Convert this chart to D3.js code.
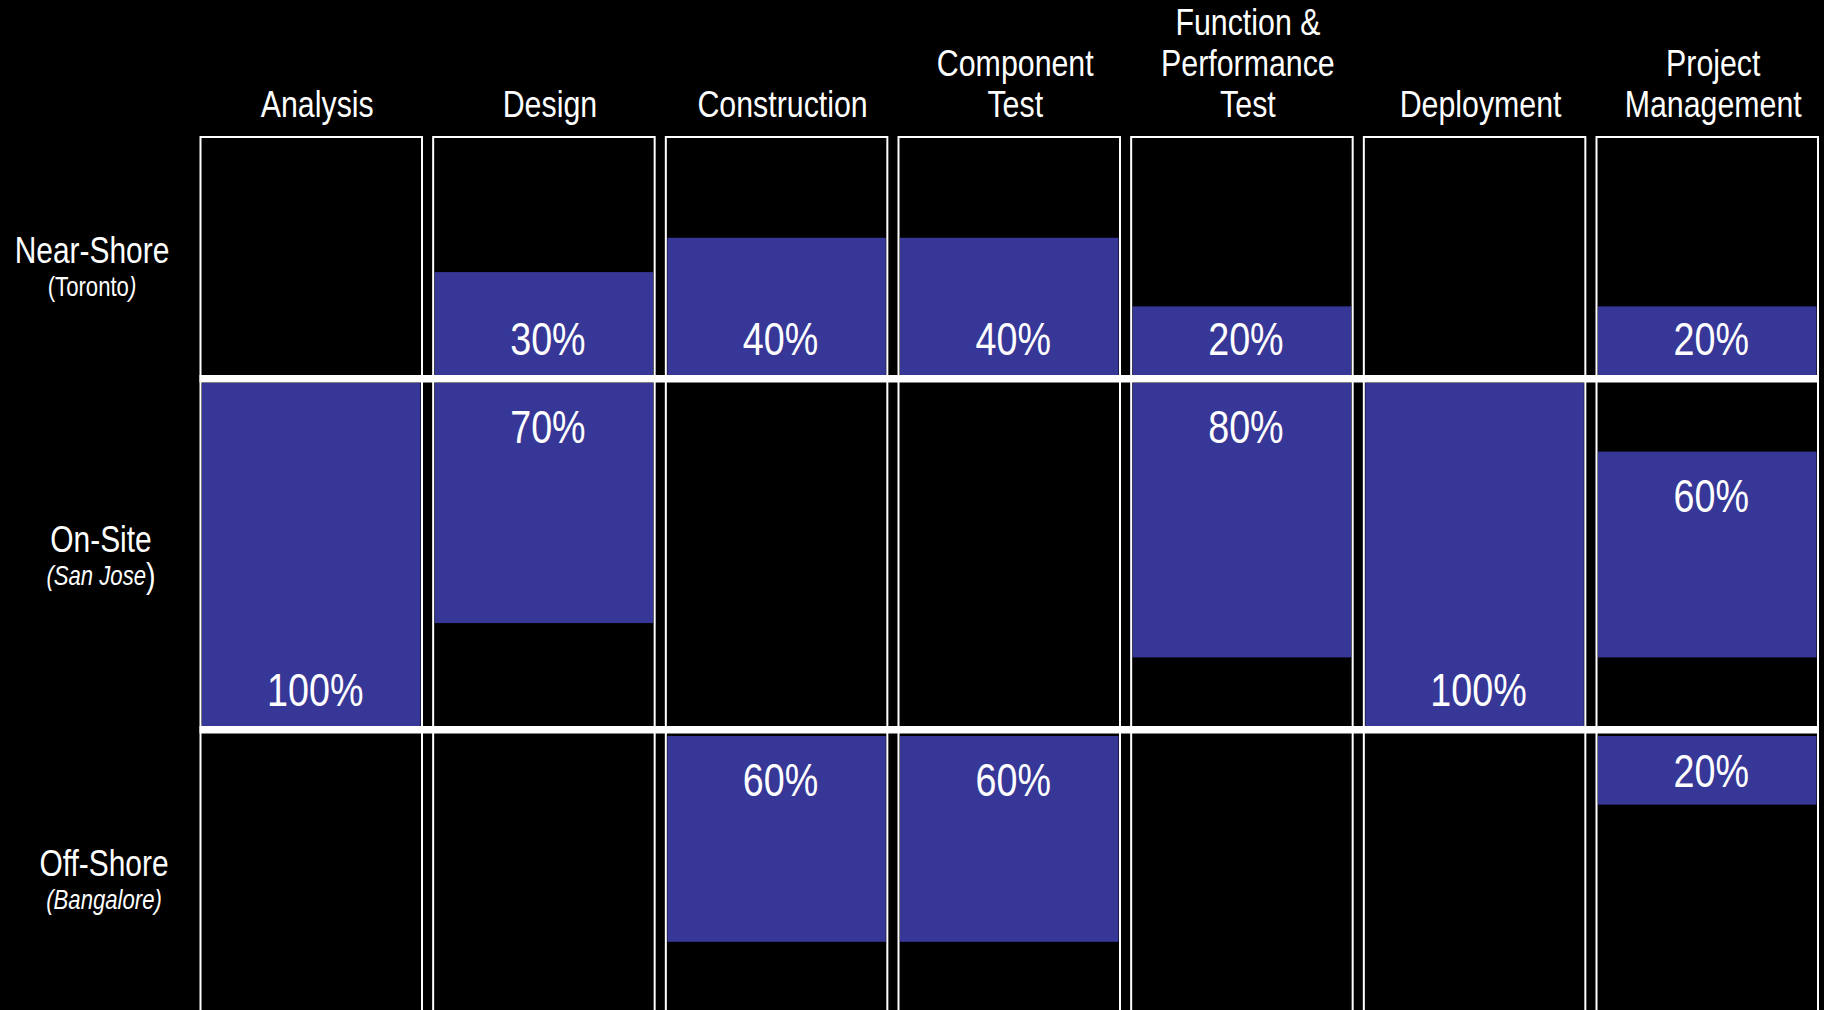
<!DOCTYPE html>
<html>
<head>
<meta charset="utf-8">
<script src="https://cdn.jsdelivr.net/npm/d3@7"></script>
<style>
  body { margin: 0; background: #000; }
  svg { display: block; }
  text { fill: #fff; font-family: "Liberation Sans", Arial, sans-serif; }
</style>
</head>
<body>
<svg id="chart"></svg>
<script>
// phases across the top (\n = line break in the header)
const phases = ["Analysis", "Design", "Construction", "Component\nTest",
                "Function &\nPerformance\nTest", "Deployment", "Project\nManagement"];
const regions = ["Near-Shore", "On-Site", "Off-Shore"];
const cities = ["Toronto", "San Jose", "Bangalore"];

// share of each phase done in each location (%)
const nearShore = [0, 30, 40, 40, 20, 0, 20];
const onSite    = [100, 70, 0, 0, 80, 100, 60];
const offShore  = [0, 0, 60, 60, 0, 0, 20];

const W = 1824, H = 1010;
const barColor = "#373797";
// no narrow font installed -> squeeze Liberation Sans horizontally
const narrow = 0.82;

let svg = d3.select("#chart").attr("width", W).attr("height", H);
svg.append("rect").attr("width", W).attr("height", H).attr("fill", "#000");

// place a narrow text at (cx, y)
function squeeze(sel, cx, y) {
    return sel.attr("x", 0).attr("y", 0)
              .attr("text-anchor", "middle")
              .attr("transform", `translate(${cx},${y}) scale(${narrow},1)`);
}

// columns
let x = d3.scaleBand()
          .domain(phases)
          .range([200.5, 1818])
          .paddingInner(0.048)
          .paddingOuter(0);

// rows: top / bottom of each cell
let rowTop = d3.scaleOrdinal().domain(regions).range([139, 383, 736]);
let rowBottom = d3.scaleOrdinal().domain(regions).range([375, 726, 1076]);
// separators between the rows
let sepY = [375, 726];
let sepH = 7.5;

// bar height: 100% fills the on-site cell
let h = d3.scaleLinear().domain([0, 100]).range([0, 343]);

// build cells
let series = [nearShore, onSite, offShore];
let cells = [];
regions.forEach((r, ri) => {
    phases.forEach((p, pi) => {
        let v = series[ri][pi];
        if (v <= 0) return;
        // bottom-aligned for near-shore, top-aligned below,
        // centred on-site when the column is split over all three rows
        let align = ri == 0 ? "bottom" : "top";
        if (ri == 1 && nearShore[pi] > 0 && offShore[pi] > 0) align = "middle";
        cells.push({region: r, phase: p, value: v, align: align});
    });
});

cells.forEach(d => {
    let t = rowTop(d.region), b = rowBottom(d.region), bh = h(d.value);
    if (d.value >= 100) { d.y0 = t; d.y1 = b; }
    else if (d.align == "bottom") { d.y0 = b - bh; d.y1 = b; }
    else if (d.align == "middle") { let m = (t + b) / 2; d.y0 = m - bh / 2; d.y1 = m + bh / 2; }
    else { d.y0 = t; d.y1 = t + bh; }
    // label position
    if (d.value >= 100 || d.align == "bottom") d.ly = d.y1 - 20;
    else d.ly = Math.min(d.y0 + 60, (d.y0 + d.y1) / 2 + 17);
});

// bars
svg.append("g").selectAll("rect")
   .data(cells)
   .enter()
   .append("rect")
   .attr("x", d => x(d.phase) + 1.5)
   .attr("width", x.bandwidth() - 3)
   .attr("y", d => d.y0)
   .attr("height", d => d.y1 - d.y0)
   .attr("fill", barColor);

// column boxes (run off the bottom)
svg.append("g").selectAll("rect")
   .data(phases)
   .enter()
   .append("rect")
   .attr("x", d => x(d))
   .attr("y", 137)
   .attr("width", x.bandwidth())
   .attr("height", 900)
   .attr("fill", "none")
   .attr("stroke", "#fff")
   .attr("stroke-width", 2);

// thick row separators
svg.append("g").selectAll("rect")
   .data(sepY)
   .enter()
   .append("rect")
   .attr("x", x.range()[0] - 1)
   .attr("width", x.range()[1] - x.range()[0] + 1)
   .attr("y", d => d)
   .attr("height", sepH)
   .attr("fill", "#fff");

// percent labels
svg.append("g").selectAll("text")
   .data(cells)
   .enter()
   .append("text")
   .each(function(d) { squeeze(d3.select(this), x(d.phase) + x.bandwidth() / 2 + 4, d.ly); })
   .style("font-size", "46px")
   .text(d => d.value + "%");

// column headers, one text per line, last line sits on y=117
let headLines = [];
phases.forEach(p => {
    let lines = p.split("\n");
    lines.forEach((l, i) => headLines.push({phase: p, text: l, y: 117 - (lines.length - 1 - i) * 41}));
});
svg.append("g").selectAll("text")
   .data(headLines)
   .enter()
   .append("text")
   .each(function(d) { squeeze(d3.select(this), x(d.phase) + x.bandwidth() / 2 + 6, d.y); })
   .style("font-size", "37px")
   .text(d => d.text);

// row labels
let labelY = d3.scaleOrdinal().domain(regions).range([263, 552, 876]);
let labelX = d3.scaleOrdinal().domain(regions).range([92, 101, 104]);
let rowLab = svg.append("g");
regions.forEach((r, i) => {
    squeeze(rowLab.append("text"), labelX(r), labelY(r))
        .style("font-size", "36.5px")
        .text(r);

    let sub = squeeze(rowLab.append("text"), labelX(r), labelY(r) + 33)
        .style("font-size", "27px");
    // the brackets are not styled the same on every line in the original
    if (i == 0) {
        sub.append("tspan").text("(" + cities[i]);
        sub.append("tspan").style("font-style", "italic").text(")");
    } else if (i == 1) {
        sub.append("tspan").style("font-style", "italic").text("(" + cities[i]);
        sub.append("tspan").style("font-size", "35px").attr("dy", 3).text(")");
    } else {
        sub.style("font-style", "italic").text("(" + cities[i] + ")");
    }
});
</script>
</body>
</html>
